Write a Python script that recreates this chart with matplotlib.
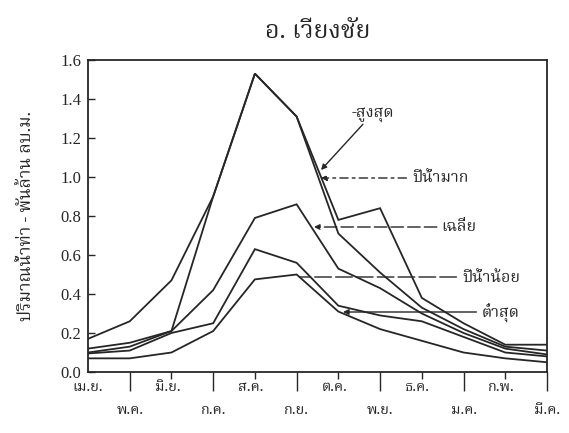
import matplotlib
matplotlib.use("Agg")
import matplotlib.pyplot as plt
from matplotlib import font_manager
from matplotlib.transforms import ScaledTranslation

# Monthly runoff (billion m^3), water year April - March
months = ["เม.ย.", "พ.ค.", "มิ.ย.", "ก.ค.", "ส.ค.", "ก.ย.",
          "ต.ค.", "พ.ย.", "ธ.ค.", "ม.ค.", "ก.พ.", "มี.ค."]
flow_max = [0.17, 0.26, 0.47, 0.90, 1.53, 1.31, 0.78, 0.84, 0.38, 0.25, 0.14, 0.14]
flow_wet = [0.12, 0.15, 0.21, 0.90, 1.53, 1.31, 0.71, 0.51, 0.33, 0.22, 0.13, 0.11]
flow_avg = [0.10, 0.13, 0.21, 0.42, 0.79, 0.86, 0.53, 0.43, 0.30, 0.20, 0.12, 0.09]
flow_dry = [0.095, 0.11, 0.20, 0.25, 0.63, 0.56, 0.34, 0.29, 0.26, 0.18, 0.10, 0.08]
flow_min = [0.07, 0.07, 0.10, 0.21, 0.475, 0.50, 0.31, 0.22, 0.16, 0.10, 0.07, 0.05]
yticks = [0.0, 0.2, 0.4, 0.6, 0.8, 1.0, 1.2, 1.4, 1.6]

title = "อ. เวียงชัย"
ylabel = "ปริมาณน้ำท่า - พันล้าน ลบ.ม."
lbl_max, lbl_wet, lbl_avg, lbl_dry, lbl_min = "-สูงสุด", "ปีน้ำมาก", "เฉลี่ย", "ปีน้ำน้อย", "ต่ำสุด"

# pick an installed font with Thai glyphs
available = {f.name for f in font_manager.fontManager.ttflist}
thai = next((n for n in ["Noto Serif Thai", "Taviraj", "Trirong", "Sarabun",
                         "Noto Sans Thai Looped", "Noto Sans Thai", "Athiti"]
             if n in available), "DejaVu Sans")
serif = "Liberation Serif"
thai_fam = [thai, "DejaVu Sans"]

ink = "#262626"
fig = plt.figure(figsize=(5.69, 4.33), dpi=100)
ax = fig.add_axes([88 / 569, 1 - 372 / 433, (547 - 88) / 569, (372 - 60) / 433])

x = list(range(len(months)))
for series in (flow_max, flow_wet, flow_avg, flow_dry, flow_min):
    ax.plot(x, series, color=ink, lw=1.3, solid_joinstyle="miter")

ax.set_xlim(0, len(months) - 1)
ax.set_ylim(0, 1.6)
for s in ax.spines.values():
    s.set_color(ink)
    s.set_linewidth(1.3)

# y axis: inward ticks, serif numerals
ax.set_yticks(yticks)
ax.set_yticklabels([f"{v:.1f}" for v in yticks], family=serif, fontsize=12, color=ink)
ax.tick_params(axis="y", direction="in", length=5, width=1, colors=ink, pad=5, right=False)

# x axis: months in two staggered rows
odd = x[1::2]
even = x[0::2]
ax.set_xticks(odd)
ax.set_xticklabels([months[i] for i in odd], family=thai_fam, fontsize=10.5, color=ink)
ax.set_xticks(even, minor=True)
ax.set_xticklabels([months[i] for i in even], minor=True, family=thai_fam, fontsize=10.5, color=ink)
ax.tick_params(axis="x", which="major", direction="out", length=14, width=1, colors=ink, pad=8)
ax.tick_params(axis="x", which="minor", direction="out", length=5, width=1, colors=ink, pad=1)
for t in ax.xaxis.get_minor_ticks()[:1]:
    t.tick1line.set_visible(False)
shift = ScaledTranslation(-4 / 100, 0, fig.dpi_scale_trans)
for lbl in ax.get_xticklabels(minor=True)[1:]:
    lbl.set_transform(lbl.get_transform() + shift)

ax.set_title(title, family=thai_fam, fontsize=18, color=ink, pad=16)
ax.set_ylabel(ylabel, family=thai_fam, fontsize=12.5, color=ink, labelpad=18)

# curve labels with leader lines
def px(xp, yp):
    return ((xp - 88) / ((547 - 88) / 11), (372 - yp) / 195)

tkw = dict(family=thai_fam, fontsize=11.5, color=ink, va="center", ha="left")
ax.annotate(lbl_max, xy=px(321, 170), xytext=px(352, 113), **tkw,
            arrowprops=dict(arrowstyle="-|>", color=ink, lw=1, mutation_scale=8,
                            shrinkA=0, shrinkB=0))
ax.annotate(lbl_wet, xy=px(321, 178), xytext=px(412, 178), **tkw,
            arrowprops=dict(arrowstyle="-|>", color=ink, lw=1, ls=(0, (6, 3, 2, 3)),
                            mutation_scale=8, shrinkA=2, shrinkB=0))
ax.annotate(lbl_avg, xy=px(314, 227), xytext=px(441, 227), **tkw,
            arrowprops=dict(arrowstyle="-|>", color=ink, lw=1, ls=(0, (9, 3)),
                            mutation_scale=8, shrinkA=1, shrinkB=0))
ax.annotate(lbl_dry, xy=px(300, 277), xytext=px(462, 277), **tkw,
            arrowprops=dict(arrowstyle="-", color=ink, lw=1, ls=(0, (12, 3)),
                            shrinkA=2, shrinkB=0))
ax.annotate(lbl_min, xy=px(343, 312), xytext=px(482, 312), **tkw,
            arrowprops=dict(arrowstyle="-|>", color=ink, lw=1, mutation_scale=8,
                            shrinkA=2, shrinkB=0))

fig.savefig("out.png", dpi=100)
